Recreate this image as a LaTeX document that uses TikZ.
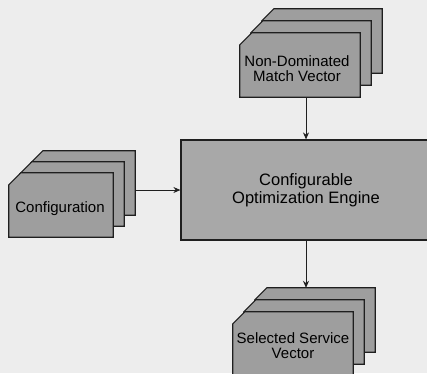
\documentclass[tikz,border=0pt]{standalone}
\usepackage{fontspec}
\setmainfont{Liberation Sans}
\usetikzlibrary{arrows.meta}
\definecolor{bgcol}{gray}{0.93}
\definecolor{cardfill}{gray}{0.62}
\definecolor{engfill}{gray}{0.66}
\definecolor{linecol}{gray}{0.12}
\tikzset{
  cardbox/.style={rectangle, draw=none, inner sep=0pt, minimum width=120pt, minimum height=64pt},
  cardboxs/.style={cardbox, minimum width=104pt},
  cardline/.style={draw=linecol, fill=cardfill, line width=1.2pt, line join=miter},
  cardtext/.style={align=center, font=\fontsize{15}{15}\selectfont, text=black, inner sep=0pt},
  engbox/.style={rectangle, draw=linecol, fill=engfill, line width=1.2pt, minimum width=250pt, minimum height=100pt,
    align=center, font=\fontsize{16.5}{18}\selectfont},
  arr/.style={draw=linecol, line width=0.9pt, -{Stealth[length=7pt,width=6pt]}}
}
\newcommand{\cardshape}[1]{\path[cardline] ([yshift=-12pt]#1.north west) -- ([xshift=12pt]#1.north west) -- (#1.north east) -- (#1.south east) -- (#1.south west) -- cycle;}
\begin{document}
\begin{tikzpicture}[x=1pt,y=-1pt]
\fill[bgcol] (0,0) rectangle (427,373);
\useasboundingbox (0,0) rectangle (427,373);
% top stack
\node[cardbox] (ndm3) at (322,41) {};
\node[cardbox] (ndm2) at (311,53) {};
\node[cardbox] (ndm1) at (300,65) {};
\cardshape{ndm3}\cardshape{ndm2}\cardshape{ndm1}
\node[cardtext] (ndmt) at (297,69) {Non-Dominated\\Match Vector};
% config stack
\node[cardboxs] (cfg3) at (83,183) {};
\node[cardboxs] (cfg2) at (72,194) {};
\node[cardboxs] (cfg1) at (61,205) {};
\cardshape{cfg3}\cardshape{cfg2}\cardshape{cfg1}
\node[cardtext] (cfgt) at (60,209) {Configuration};
% engine
\node[engbox] (eng) at (306,190) {Configurable\\Optimization Engine};
% bottom stack
\node[cardbox] (sel3) at (315,320) {};
\node[cardbox] (sel2) at (304,332) {};
\node[cardbox] (sel1) at (293,344) {};
\cardshape{sel3}\cardshape{sel2}\cardshape{sel1}
\node[cardtext] (selt) at (293,346) {Selected Service\\Vector};
% connectors
\draw[arr] (ndm1.south -| eng.north) -- (eng.north);
\draw[arr] (cfg3.east |- eng.west) -- (eng.west);
\draw[arr] (eng.south) -- (sel3.north -| eng.south);
\end{tikzpicture}
\end{document}
